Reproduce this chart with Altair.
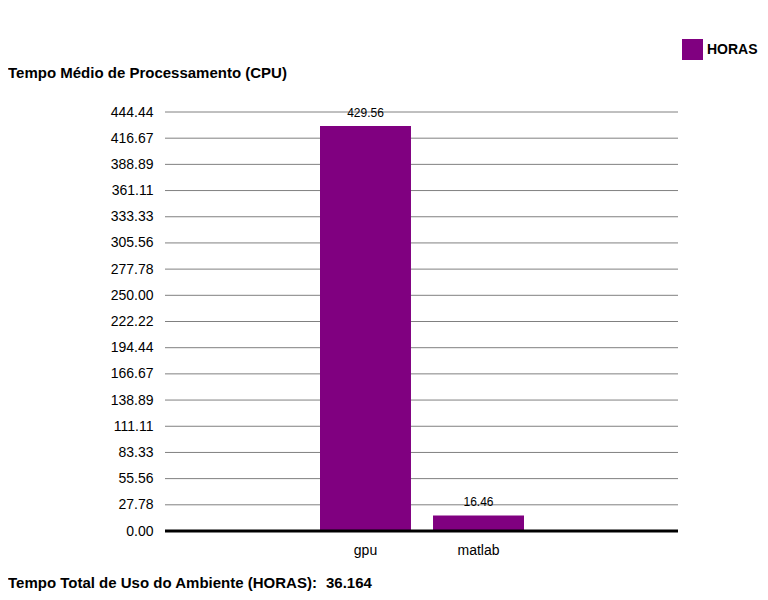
import altair as alt
import pandas as pd

categorias = ["gpu", "matlab"]
horas = [429.56, 16.46]
serie = "HORAS"
ticks_y = [0.00, 27.78, 55.56, 83.33, 111.11, 138.89, 166.67, 194.44, 222.22,
           250.00, 277.78, 305.56, 333.33, 361.11, 388.89, 416.67, 444.44]
titulo = "Tempo Médio de Processamento (CPU)"
rodape_rotulo = "Tempo Total de Uso do Ambiente (HORAS):"
rodape_valor = "36.164"

FONT = "Liberation Sans"
PURPLE = "#800080"

df = pd.DataFrame({"categoria": categorias, "horas": horas, "serie": [serie] * len(categorias)})
df_ticks = pd.DataFrame({"horas": ticks_y})

base = alt.Chart(df)

y_scale = alt.Scale(domain=[0, max(ticks_y)], nice=False, zero=True)
y_axis = alt.Axis(title=None, values=ticks_y, format=".2f", domain=False,
                  ticks=False, grid=False, labelOverlap=False,
                  labelFontSize=14, labelColor="#000000", labelPadding=12,
                  labelFont=FONT)
x_scale = alt.Scale(paddingInner=0.195, paddingOuter=0, range=[155, 359])
x_axis = alt.Axis(title=None, labelAngle=0, domain=False, ticks=False, grid=False,
                  labelFontSize=14, labelColor="#000000", labelPadding=12,
                  labelFont=FONT)

def Y(field):
    return alt.Y(field, scale=y_scale, axis=y_axis)

def X():
    return alt.X("categoria:N", sort=categorias, scale=x_scale, axis=x_axis)

grid = alt.Chart(df_ticks).mark_rule(color="#808080", strokeWidth=1).encode(
    y=Y("horas:Q"), x=alt.value(0), x2=alt.value(513))

bars = base.mark_bar(color=PURPLE).encode(
    x=X(), y=Y("horas:Q"),
    color=alt.Color("serie:N", scale=alt.Scale(range=[PURPLE]),
                    legend=alt.Legend(title=None, orient="none", legendX=517, legendY=-73,
                                      symbolType="square", symbolSize=441,
                                      symbolStrokeWidth=0, labelFontSize=14,
                                      labelFontWeight="bold", labelFont=FONT,
                                      labelColor="#000000", padding=0, symbolOffset=0)),
)

labels = base.mark_text(baseline="bottom", dy=-6, fontSize=12, font=FONT, color="#000000").encode(
    x=X(), y=Y("horas:Q"), text=alt.Text("horas:Q", format=".2f"))

baseline = alt.Chart(pd.DataFrame({"horas": [0]})).mark_rule(color="#000000", strokeWidth=3).encode(
    y=Y("horas:Q"), x=alt.value(0), x2=alt.value(513))

title_txt = alt.Chart(pd.DataFrame({"t": [titulo]})).mark_text(
    align="left", baseline="alphabetic", fontSize=15, fontWeight="bold", font=FONT, color="#000000"
).encode(x=alt.value(-157), y=alt.value(-34), text="t:N")

foot1 = alt.Chart(pd.DataFrame({"t": [rodape_rotulo]})).mark_text(
    align="left", baseline="alphabetic", fontSize=15, fontWeight="bold", font=FONT, color="#000000"
).encode(x=alt.value(-157), y=alt.value(476), text="t:N")

foot2 = alt.Chart(pd.DataFrame({"t": [rodape_valor]})).mark_text(
    align="left", baseline="alphabetic", fontSize=15, fontWeight="bold", font=FONT, color="#000000"
).encode(x=alt.value(161), y=alt.value(476), text="t:N")

chart = alt.layer(grid, bars, labels, baseline, title_txt, foot1, foot2).properties(
    width=513, height=419,
    autosize=alt.AutoSizeParams(type="none"),
    padding={"left": 157, "top": 104, "right": 82, "bottom": 61},
).configure_view(stroke=None)

chart.save("out.html", embed_options={"renderer": "svg", "actions": False})
